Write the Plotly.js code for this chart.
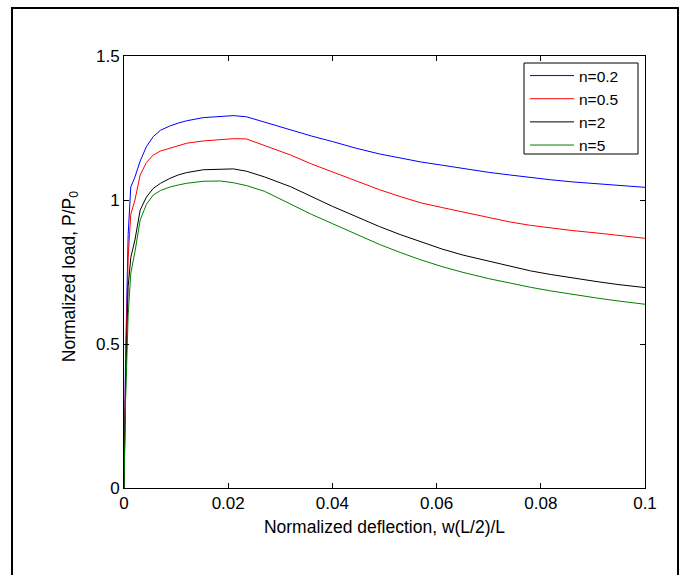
<!DOCTYPE html>
<html>
<head>
<meta charset="utf-8">
<script src="https://cdn.plot.ly/plotly-3.0.1.min.js"></script>
<style>body{margin:0;padding:0;background:#fff;}#chart{width:683px;height:575px;}</style>
</head>
<body>
<div id="chart"></div>
<script>
const deflection = [0, 0.0003, 0.0008, 0.0013, 0.0021, 0.0031, 0.0043, 0.0056, 0.007, 0.0088, 0.0104, 0.012, 0.0152, 0.0185, 0.021, 0.0235, 0.027, 0.032, 0.036, 0.04, 0.0445, 0.049, 0.053, 0.057, 0.061, 0.065, 0.07, 0.074, 0.078, 0.082, 0.086, 0.091, 0.095, 0.1];
const load_n02 = [0, 0.45, 0.88, 1.045, 1.08, 1.135, 1.185, 1.22, 1.242, 1.257, 1.267, 1.275, 1.286, 1.291, 1.293, 1.289, 1.27, 1.243, 1.222, 1.203, 1.18, 1.16, 1.145, 1.132, 1.121, 1.109, 1.096, 1.087, 1.078, 1.07, 1.063, 1.056, 1.05, 1.044];
const load_n05 = [0, 0.4, 0.8, 0.95, 1.0, 1.087, 1.13, 1.156, 1.17, 1.18, 1.19, 1.197, 1.205, 1.21, 1.213, 1.212, 1.19, 1.156, 1.125, 1.097, 1.066, 1.036, 1.012, 0.99, 0.974, 0.958, 0.94, 0.924, 0.912, 0.902, 0.894, 0.885, 0.877, 0.867];
const load_n2 = [0, 0.35, 0.7, 0.8, 0.861, 0.965, 1.01, 1.04, 1.058, 1.075, 1.087, 1.095, 1.105, 1.108, 1.108, 1.1, 1.08, 1.046, 1.012, 0.978, 0.943, 0.908, 0.88, 0.855, 0.83, 0.809, 0.787, 0.769, 0.754, 0.741, 0.729, 0.716, 0.706, 0.696];
const load_n5 = [0, 0.3, 0.6, 0.746, 0.82, 0.93, 0.985, 1.017, 1.033, 1.045, 1.052, 1.058, 1.065, 1.066, 1.06, 1.05, 1.03, 0.985, 0.95, 0.918, 0.881, 0.846, 0.818, 0.792, 0.769, 0.749, 0.727, 0.711, 0.697, 0.684, 0.672, 0.659, 0.649, 0.638];
const seriesNames = ["n=0.2", "n=0.5", "n=2", "n=5"];
const seriesColors = ["#0000ff", "#ff0000", "#000000", "#008000"];
const seriesValues = [load_n02, load_n05, load_n2, load_n5];

const fontFam = "Liberation Sans, Arial, sans-serif";
// plot area in pixels (used only for layout placement)
const plotL = 124, plotR = 645, plotT = 56, plotB = 488;
const pw = plotR - plotL, ph = plotB - plotT;
const px2x = p => (p - plotL) / pw;
const py2y = p => (plotB - p) / ph;

const traces = seriesValues.map((vals, i) => ({
  x: deflection, y: vals, type: "scatter", mode: "lines",
  name: seriesNames[i], line: {color: seriesColors[i], width: 1}
}));

const layout = {
  width: 683, height: 575,
  margin: {l: plotL, r: 683 - plotR, t: plotT, b: 575 - plotB},
  paper_bgcolor: "#fff", plot_bgcolor: "#fff",
  font: {family: fontFam, size: 17, color: "#000"},
  showlegend: true,
  legend: {x: px2x(525), y: py2y(59), xanchor: "left", yanchor: "top",
    bgcolor: "rgba(0,0,0,0)", borderwidth: 0, itemwidth: 44,
    font: {family: fontFam, size: 15.5, color: "#000"}},
  xaxis: {range: [0, 0.1], dtick: 0.02, tick0: 0, ticks: "inside", ticklen: 5,
    tickcolor: "#000", showline: true, linecolor: "#000", linewidth: 1, mirror: "ticks",
    showgrid: false, zeroline: false, tickfont: {size: 17},
    title: {text: "Normalized deflection, w(L/2)/L", font: {size: 17.5}, standoff: 8}},
  yaxis: {range: [0, 1.5], dtick: 0.5, tick0: 0, ticks: "inside", ticklen: 5,
    tickcolor: "#000", showline: true, linecolor: "#000", linewidth: 1, mirror: "ticks",
    showgrid: false, zeroline: false, tickfont: {size: 17}},
  annotations: [{text: "Normalized load, P/P<sub>0</sub>", xref: "paper", yref: "paper",
    x: px2x(70), y: 0.488, xanchor: "center", yanchor: "middle",
    textangle: -90, showarrow: false, font: {family: fontFam, size: 17.5, color: "#000"}}],
  shapes: [
    {type: "rect", xref: "paper", yref: "paper",
      x0: px2x(12), x1: px2x(678), y0: py2y(580), y1: py2y(8),
      line: {color: "#000", width: 2}, fillcolor: "rgba(0,0,0,0)", layer: "below"},
    {type: "rect", xref: "paper", yref: "paper",
      x0: px2x(524), x1: px2x(638), y0: py2y(154), y1: py2y(63),
      line: {color: "#000", width: 1}, fillcolor: "#fff", layer: "above"}
  ]
};
Plotly.newPlot("chart", traces, layout, {displayModeBar: false, staticPlot: true});
</script>
</body>
</html>
